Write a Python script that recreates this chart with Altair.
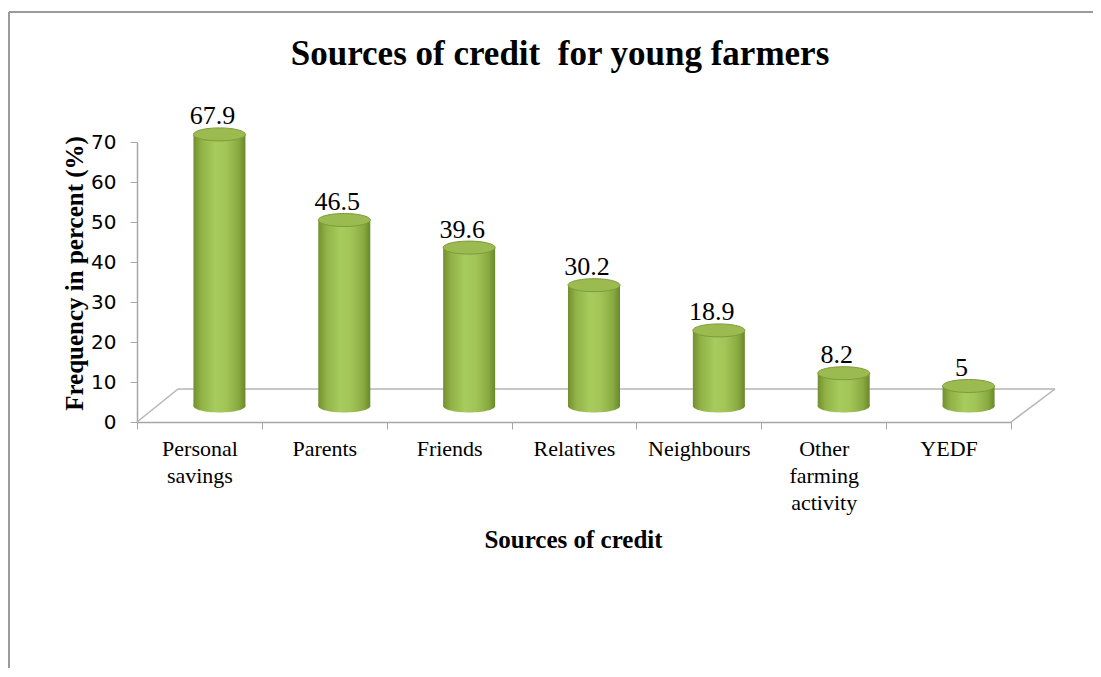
import altair as alt
import pandas as pd

categories = ["Personal savings", "Parents", "Friends", "Relatives",
              "Neighbours", "Other farming activity", "YEDF"]
values = [67.9, 46.5, 39.6, 30.2, 18.9, 8.2, 5]
value_labels = ["67.9", "46.5", "39.6", "30.2", "18.9", "8.2", "5"]
y_ticks = [0, 10, 20, 30, 40, 50, 60, 70]

df = pd.DataFrame({"source": categories, "freq": values, "label": value_labels})
one = pd.DataFrame({"a": [0]})

W, H = 874, 280
BAR_W = 52
DX, DY = 20, -16
ELLIPSE = "M-1,0A1,0.25,0,1,0,1,0A1,0.25,0,1,0,-1,0Z"
SERIF = "Liberation Serif"

body_grad = alt.Gradient(
    gradient="linear", x1=0, x2=1, y1=0, y2=0,
    stops=[
        alt.GradientStop(color="#738f2e", offset=0),
        alt.GradientStop(color="#90b246", offset=0.15),
        alt.GradientStop(color="#a8cb5d", offset=0.42),
        alt.GradientStop(color="#a3c558", offset=0.62),
        alt.GradientStop(color="#88aa40", offset=0.87),
        alt.GradientStop(color="#6a8829", offset=1),
    ],
)

x_enc = alt.X(
    "source:N", sort=categories,
    scale=alt.Scale(paddingInner=0, paddingOuter=0),
    axis=alt.Axis(
        title="Sources of credit", labelExpr="split(datum.label, ' ')",
        labelAngle=0, labelFont=SERIF, labelFontSize=22, labelColor="black",
        labelPadding=9, labelBaseline="top", labelLineHeight=27,
        tickBand="extent", tickSize=7, tickColor="#a6a6a6",
        domainColor="#a6a6a6", domainWidth=1.5,
        titleFont=SERIF, titleFontSize=25, titleFontWeight="bold",
        titleColor="black", titleX=436, titleY=125,
        titleBaseline="alphabetic", titleAlign="center",
    ),
)
y_scale = alt.Scale(domain=[0, 70], nice=False, zero=True)
y_axis = alt.Axis(
    title="Frequency in percent (%)", values=y_ticks, grid=False,
    labelOverlap=False,
    labelFont="DejaVu Sans", labelFontSize=20, labelColor="black",
    labelPadding=14, tickSize=7, tickColor="#a6a6a6",
    domainColor="#a6a6a6", domainWidth=1.5,
    titleFont=SERIF, titleFontSize=25, titleFontWeight="bold",
    titleColor="black", titleX=-63, titleY=131,
    titleBaseline="middle", titleAlign="center", titleAngle=-90,
)
y_enc = alt.Y("freq:Q", scale=y_scale, axis=y_axis)

base = alt.Chart(df)

# decorative frame and 3D floor
frame_left = alt.Chart(one).mark_rule(color="#9a9a9a", strokeWidth=2).encode(
    x=alt.value(-128), y=alt.value(-130), y2=alt.value(540))
frame_top = alt.Chart(one).mark_rule(color="#9a9a9a", strokeWidth=2).encode(
    x=alt.value(-128), x2=alt.value(970), y=alt.value(-130))
floor_back = alt.Chart(one).mark_rule(color="#b5b5b5", strokeWidth=1.5).encode(
    x=alt.value(41), x2=alt.value(918), y=alt.value(247))
floor_left = alt.Chart(one).mark_rule(color="#b5b5b5", strokeWidth=1.5).encode(
    x=alt.value(0), y=alt.value(280), x2=alt.value(41), y2=alt.value(247))
floor_right = alt.Chart(one).mark_rule(color="#b5b5b5", strokeWidth=1.5).encode(
    x=alt.value(874), y=alt.value(280), x2=alt.value(918), y2=alt.value(247))

title = alt.Chart(one).mark_text(
    text="Sources of credit\u00a0 for young farmers", font=SERIF, fontSize=35,
    fontWeight="bold", color="black", align="center", baseline="alphabetic",
).encode(x=alt.value(423), y=alt.value(-77))

body = base.mark_bar(
    width=BAR_W, fill=body_grad, xOffset=DX, yOffset=DY, y2Offset=DY,
).encode(x=x_enc, y=y_enc, y2=alt.Y2(datum=0))

bottom = base.mark_point(
    shape=ELLIPSE, size=BAR_W ** 2, filled=True, fill=body_grad, opacity=1,
    strokeWidth=0, xOffset=DX, yOffset=DY,
).encode(x=x_enc, y=alt.Y(datum=0, scale=y_scale, axis=y_axis))

top = base.mark_point(
    shape=ELLIPSE, size=BAR_W ** 2, filled=True, fill="#9bbb50", opacity=1,
    stroke="#7c9a38", strokeWidth=1, xOffset=DX, yOffset=DY,
).encode(x=x_enc, y=y_enc)

text = base.mark_text(
    font=SERIF, fontSize=26, color="black", align="center",
    baseline="alphabetic", dx=13, dy=-26,
).encode(x=x_enc, y=y_enc, text="label:N")

chart = alt.layer(
    frame_left, frame_top, floor_back, floor_left, floor_right,
    body, bottom, top, text, title,
).properties(
    width=W, height=H,
    autosize=alt.AutoSizeParams(type="none"),
    padding={"left": 129, "top": 134, "right": 82, "bottom": 246},
).configure_view(stroke=None)

chart.save("out.html", embed_options={"renderer": "svg", "actions": False})
